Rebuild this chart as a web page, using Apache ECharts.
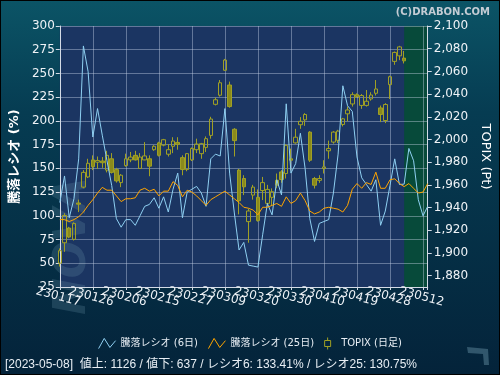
<!DOCTYPE html>
<html><head><meta charset="utf-8">
<script src="https://cdn.jsdelivr.net/npm/echarts@6/dist/echarts.min.js"></script>
<style>html,body{margin:0;padding:0;background:#000}#c{width:500px;height:375px}</style>
</head><body><div id="c"></div>
<script>
const categories = [
 '230117','230118','230119','230120','230123','230124','230125',
 '230126','230127','230130','230131','230201','230202','230203',
 '230206','230207','230208','230209','230210','230213','230214',
 '230215','230216','230217','230220','230221','230222','230224',
 '230227','230228','230301','230302','230303','230306','230307',
 '230309','230310','230313','230314','230315','230316','230317',
 '230320','230322','230323','230324','230327','230328','230329',
 '230330','230331','230403','230404','230405','230406','230407',
 '230410','230411','230412','230413','230414','230417','230418',
 '230419','230420','230421','230424','230425','230426','230427',
 '230428','230501','230502','230508','230509','230510','230511',
 '230512','230515'];
const labelEvery = 7;
const ratio6 = [114,142,98,118,160,279,252,183,213,185,158,132,97,88,96,96,90,100,110,112,
 119,108,120,104,128,145,98,125,128,131,124,110,160,165,163,213,145,103,64,72,
 48,47,46,80,113,101,138,122,218,145,155,187,150,97,73,92,94,96,124,165,
 237,216,210,162,140,133,126,138,90,105,132,160,133,133.41,171,158,117,100,110];
const ratio25 = [96,96,94,96,99,104,111,117,124,130,127,127,121,115,118,118,119,127,129,126,
 128,121,126,126,136,132,120,127,125,121,116,111,117,120,123,126,122,118,114,109,
 108,106,101,109,109,111,113,110,120,113,116,124,116,105,102,104,108,109,108,107,
 104,111,128,134,129,135,133,146,129,129,138,139,134,130.75,134,129,124,125,134];
const topixOpen = [1891,1909,1922,1912,1944,1958,1967,1982,1980,1981,1973,1983,1973.5,1962,1977,1982,1986,1974.5,1982,1983,
 1991,1997,1995,1987,1994,1997.4,1984,1973.5,1982,1991,1987.5,1993,2003.6,2031,2039,2061,2048,2009,1973,1965.6,
 1927.6,1951,1949,1955,1943.7,1949,1964,1971.4,1970,1983,1997,2013,2017.3,2006.5,1965.6,1964,1974.4,1990,1997.7,1999.2,
 2013.2,2022.6,2031.3,2039.5,2030,2030,2035.7,2040.7,2027.8,2016.7,2048.3,2068.8,2073.7,2071.7];
const topixClose = [1902,1933,1914,1926,1943,1971,1979,1976,1981.5,1979.5,1986,1971,1963.5,1968.5,1983,1984.5,1982,1984.5,1985.5,1976.5,
 1994,1986,1999.8,1991,1998.6,1995.7,1973.5,1987.5,1992,1996,1996.3,2000.7,2018,2035,2050,2070,2029,1999,1946,1958.3,
 1937,1958,1928.5,1962,1956,1954,1959.7,1964.7,1994.8,1981.7,2002,2016,2022,1981.7,1959.7,1965.6,1975.8,1992,2006.5,2007.4,
 2018.2,2026,2039.5,2037.8,2038.7,2033.7,2039.2,2044.5,2022,2030.8,2055.3,2076.7,2081.6,2069.3];
const topixLow = [1888,1901,1913,1911,1936,1957,1966,1973,1974,1975,1971,1970,1962,1958,1976,1980,1981.5,1974,1981.7,1967.6,
 1990,1985,1994,1985,1988,1991,1968.5,1972,1981,1988,1983,1989,2000.7,2030,2037.8,2060.6,2028,1985,1934,1951,
 1909,1947,1927.6,1946.6,1940.8,1942,1957,1961.8,1965.6,1973,1996.3,2009.4,2012,1980.2,1956.8,1961.8,1970,1983,1996.3,1996.9,
 2011.5,2016.1,2029,2036.6,2027,2029,2034.2,2038.7,2015.3,2014.4,2035.7,2065.8,2069.9,2067];
const topixHigh = [1904,1935,1923,1927,1947,1973,1983,1986,1985,1984.5,1990,1988,1975,1969.5,1987.5,1989,1990,1988,1997.7,1986,
 1995,1998,2000.5,1996,2002,2002,1986,1988,1993,2000.7,1997,2002.7,2020,2037,2052.4,2071,2051,2010,1974,1968.5,
 1939,1960,1956,1967,1960,1956.9,1970,1973,1995.7,1992,2009.4,2019.7,2023.2,2007.4,1967,1968.5,1981.7,1999,2007.4,2008.5,
 2019,2029,2041.6,2040.7,2040,2043.6,2041.6,2052.4,2029.9,2032,2056.2,2077.5,2082.5,2078];
const topixTicks = [1880,1900,1920,1940,1960,1980,2000,2020,2040,2060,2080,2100];
const statusDate = '2023-05-08';
const advances = 1126;
const declines = 637;
const futureStart = '230508';
const futureEnd = '230515';

const lastIdx = topixOpen.length - 1;
const candleData = topixOpen.map((o, i) => [o, topixClose[i], topixLow[i], topixHigh[i]]);
const FONT = 'DejaVu Sans, Noto Sans CJK JP, sans-serif';
const AX = '#d4dbe6';
const GRIDC = 'rgba(200,212,232,0.42)';
const BLUE = '#8fd0f2', ORANGE = '#ffa500', OLIVE = '#a0a024';

const chart = echarts.init(document.getElementById('c'));
chart.setOption({
  animation: false,
  backgroundColor: new echarts.graphic.LinearGradient(0, 0, 0, 1, [
    {offset: 0, color: '#0b5466'}, {offset: 0.3, color: '#063c52'}, {offset: 1, color: '#04233a'}]),
  title: {text: '(C)DRABON.COM', right: 5, top: 2,
    textStyle: {color: '#c4ccd4', fontSize: 10, fontWeight: 'bold', fontFamily: 'DejaVu Sans'}},
  grid: {left: 57, right: 65, top: 26, bottom: 88, show: true, backgroundColor: '#1b3562', borderWidth: 0},
  legend: {
    top: 337, left: 'center', padding: 0, itemWidth: 17, itemHeight: 12, itemGap: 10,
    textStyle: {color: '#e8eef4', fontSize: 10, fontFamily: FONT},
    data: [
      {name: '騰落レシオ (6日)', icon: 'path://M0,10L5,1L10,9L15,3',
        itemStyle: {color: 'rgba(0,0,0,0)', borderColor: BLUE, borderWidth: 1}},
      {name: '騰落レシオ (25日)', icon: 'path://M0,10L5,1L10,9L15,3',
        itemStyle: {color: 'rgba(0,0,0,0)', borderColor: ORANGE, borderWidth: 1}},
      {name: 'TOPIX (日足)', icon: 'path://M3,0L3,3M0,3L6,3L6,9L0,9ZM3,9L3,12',
        itemStyle: {color: 'rgba(0,0,0,0)', borderColor: OLIVE, borderWidth: 1}}
    ]
  },
  xAxis: {
    type: 'category', data: categories, boundaryGap: false, z: 2,
    axisLine: {lineStyle: {color: AX}},
    axisTick: {show: true, interval: labelEvery - 1, length: 3, lineStyle: {color: AX}},
    axisLabel: {interval: 0, rotate: -15, align: 'center', verticalAlign: 'top', margin: 4,
      hideOverlap: false,
      formatter: (v, i) => (i % labelEvery === 0 ? v : ''),
      color: '#eef2f6', fontSize: 12, fontFamily: FONT},
    splitLine: {show: true, interval: labelEvery - 1, lineStyle: {color: GRIDC}}
  },
  yAxis: [
    {type: 'value', min: 25, max: 300, interval: 25, position: 'left', z: 2,
      name: '騰落レシオ (%)', nameLocation: 'middle', nameGap: 34, nameRotate: 90,
      nameTextStyle: {color: '#ffffff', fontSize: 13, fontWeight: 'bold', fontFamily: FONT},
      axisLine: {show: true, lineStyle: {color: AX}},
      axisTick: {show: true, length: 4, lineStyle: {color: AX}},
      axisLabel: {color: '#eef2f6', fontSize: 12, margin: 5, fontFamily: FONT, showMinLabel: true, showMaxLabel: true},
      splitLine: {show: true, lineStyle: {color: GRIDC}}},
    {type: 'value', min: 1870, max: 2100, position: 'right', z: 2,
      name: 'TOPIX (Pt)', nameLocation: 'middle', nameGap: 47, nameRotate: -90,
      nameTextStyle: {color: '#ffffff', fontSize: 13, fontFamily: FONT},
      axisLine: {show: true, lineStyle: {color: AX}},
      axisTick: {show: true, length: 4, customValues: topixTicks, lineStyle: {color: AX}},
      axisLabel: {color: '#eef2f6', fontSize: 12, margin: 6, fontFamily: FONT, customValues: topixTicks,
        formatter: v => Number(v).toLocaleString('en-US')},
      splitLine: {show: false}}
  ],
  series: [
    {type: 'line', name: 'future', data: [], silent: true, z: 1,
      markArea: {silent: true, itemStyle: {color: '#074a3a'},
        data: [[{xAxis: futureStart}, {xAxis: futureEnd}]]}},
    {type: 'candlestick', name: 'TOPIX (日足)', yAxisIndex: 1, data: candleData, barWidth: 4, z: 4,
      itemStyle: {color: 'rgba(0,0,0,0)', color0: '#8a8a1c', borderColor: OLIVE, borderColor0: OLIVE, borderWidth: 1}},
    {type: 'line', name: '騰落レシオ (6日)', data: ratio6, showSymbol: false, z: 5,
      lineStyle: {color: BLUE, width: 1}, itemStyle: {color: BLUE}},
    {type: 'line', name: '騰落レシオ (25日)', data: ratio25, showSymbol: false, z: 5,
      lineStyle: {color: ORANGE, width: 1}, itemStyle: {color: ORANGE}}
  ],
  graphic: [
    {type: 'text', x: 52, y: 315, rotation: Math.PI / 2, z: 0, silent: true,
      style: {text: 'NOVA', font: 'italic bold 44px DejaVu Sans', fill: 'rgba(110,150,170,0.24)'}},
    {type: 'polygon', z: 0, silent: true,
      shape: {points: [[467, 347], [488, 349], [489, 365], [484, 365], [483, 354], [468, 353]]},
      style: {fill: 'rgba(80,120,140,0.6)'}},
    {type: 'text', left: 5, top: 359, silent: true,
      style: {text: '[' + statusDate + ']  値上: ' + advances + ' / 値下: ' + declines +
        ' / レシオ6: ' + ratio6[lastIdx].toFixed(2) + '% / レシオ25: ' + ratio25[lastIdx].toFixed(2) + '%',
        fill: '#e8eef4', font: '12px Liberation Sans, Noto Sans CJK JP'}},
    {type: 'rect', shape: {x: 0, y: 0, width: 500, height: 375}, silent: true, z: 100,
      style: {fill: 'none', stroke: '#000', lineWidth: 2}}
  ]
});
</script></body></html>
